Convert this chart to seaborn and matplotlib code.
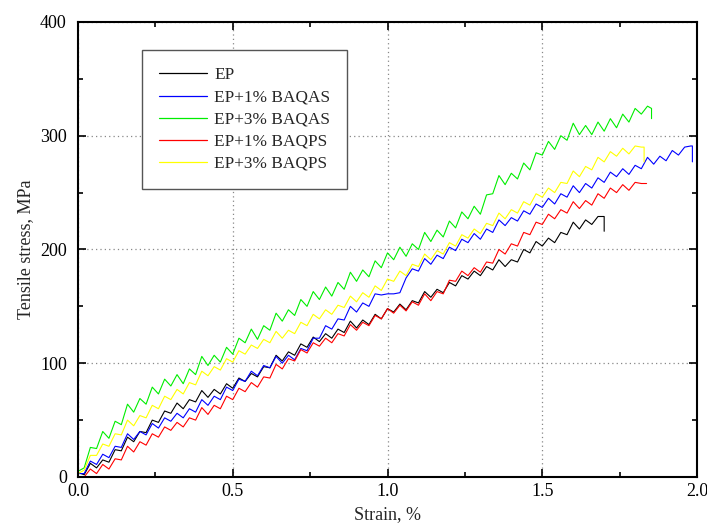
import matplotlib
matplotlib.use("Agg")
import matplotlib.pyplot as plt
from matplotlib.ticker import MultipleLocator
import seaborn as sns
import pandas as pd

# shared strain grid (%)
strain = [0.00, 0.02, 0.04, 0.06, 0.08, 0.10, 0.12, 0.14, 0.16, 0.18,
          0.20, 0.22, 0.24, 0.26, 0.28, 0.30, 0.32, 0.34, 0.36, 0.38,
          0.40, 0.42, 0.44, 0.46, 0.48, 0.50, 0.52, 0.54, 0.56, 0.58,
          0.60, 0.62, 0.64, 0.66, 0.68, 0.70, 0.72, 0.74, 0.76, 0.78,
          0.80, 0.82, 0.84, 0.86, 0.88, 0.90, 0.92, 0.94, 0.96, 0.98,
          1.00, 1.02, 1.04, 1.06, 1.08, 1.10, 1.12, 1.14, 1.16, 1.18,
          1.20, 1.22, 1.24, 1.26, 1.28, 1.30, 1.32, 1.34, 1.36, 1.38,
          1.40, 1.42, 1.44, 1.46, 1.48, 1.50, 1.52, 1.54, 1.56, 1.58,
          1.60, 1.62, 1.64, 1.66, 1.68, 1.70, 1.72, 1.74, 1.76, 1.78,
          1.80, 1.82, 1.84, 1.86, 1.88, 1.90, 1.92, 1.94, 1.96, 1.98]

labels = ["EP", "EP+1% BAQAS", "EP+3% BAQAS", "EP+1% BAQPS", "EP+3% BAQPS"]
colors = ["#000000", "#0000ff", "#00ee00", "#ff0000", "#ffff00"]

ep_y = [4, 2, 12, 8, 15, 13, 24, 23, 35, 31, 40, 39, 50, 48, 58, 56, 65, 60, 68, 66,
        76, 70, 77, 73, 82, 78, 87, 84, 91, 88, 97, 96, 107, 102, 110, 107, 117, 114, 123, 119,
        126, 122, 130, 127, 137, 131, 138, 134, 143, 139, 148, 145, 152, 147, 155, 153, 163, 158, 165, 162,
        171, 168, 177, 174, 181, 177, 185, 182, 191, 185, 191, 189, 200, 197, 207, 203, 210, 206, 215, 213,
        224, 218, 226, 222, 229]
ep_end_x = [1.70, 1.70]
ep_end_y = [229, 216]

b1_y = [3, 3, 14, 11, 20, 17, 27, 26, 38, 33, 40, 37, 47, 43, 52, 49, 56, 52, 60, 57,
        68, 63, 71, 68, 79, 76, 86, 84, 93, 89, 98, 96, 106, 100, 107, 103, 113, 111, 122, 122,
        133, 130, 139, 138, 150, 145, 153, 150, 161, 160, 161, 161, 162, 175, 183, 181, 192, 187, 195, 192,
        202, 199, 209, 206, 214, 209, 218, 215, 226, 221, 228, 225, 234, 231, 240, 237, 245, 240, 249, 246,
        256, 250, 258, 254, 263, 259, 268, 264, 271, 266, 274, 271, 281, 275, 282, 278, 287, 283, 290, 291]
b1_end_x = [1.985, 1.985]
b1_end_y = [291, 277]

b3_y = [5, 8, 26, 25, 40, 34, 49, 46, 64, 57, 69, 64, 79, 73, 86, 80, 90, 82, 95, 90,
        106, 98, 107, 101, 114, 108, 122, 118, 130, 121, 133, 129, 144, 137, 147, 142, 156, 150, 163, 156,
        167, 159, 171, 165, 180, 172, 182, 176, 190, 184, 197, 191, 202, 194, 205, 200, 215, 207, 217, 211,
        225, 219, 233, 227, 238, 231, 248, 249, 265, 257, 267, 262, 276, 270, 285, 283, 295, 288, 300, 296,
        311, 301, 309, 301, 312, 304, 315, 307, 319, 312, 324, 319, 326]
b3_end_x = [1.853, 1.853]
b3_end_y = [324, 315]

p1_y = [0, 0, 7, 3, 11, 7, 16, 15, 27, 22, 31, 28, 38, 35, 44, 41, 48, 44, 52, 50,
        61, 55, 63, 60, 71, 68, 78, 75, 83, 79, 88, 87, 99, 95, 104, 102, 112, 109, 118, 115,
        122, 118, 126, 124, 134, 129, 136, 133, 142, 139, 148, 144, 151, 146, 154, 151, 161, 155, 163, 161,
        173, 172, 181, 177, 184, 180, 189, 188, 200, 196, 205, 203, 215, 213, 224, 222, 231, 227, 235, 232,
        242, 236, 243, 239, 249, 245, 254, 250, 257, 252, 259, 258]
p1_end_x = [1.837]
p1_end_y = [258]

p3_y = [3, 6, 19, 19, 29, 27, 38, 37, 50, 45, 54, 52, 63, 60, 71, 68, 77, 73, 83, 81,
        93, 89, 97, 94, 104, 101, 111, 108, 116, 113, 121, 118, 128, 122, 129, 126, 136, 133, 143, 139,
        147, 143, 151, 149, 159, 154, 162, 158, 168, 164, 174, 172, 181, 177, 187, 185, 196, 191, 199, 196,
        206, 203, 213, 210, 218, 214, 223, 221, 232, 227, 235, 232, 242, 239, 249, 246, 254, 250, 259, 258,
        269, 264, 273, 270, 281, 277, 286, 282, 289, 284, 291, 290]
p3_end_x = [1.829, 1.829]
p3_end_y = [290, 277]

series = [(ep_y, ep_end_x, ep_end_y), (b1_y, b1_end_x, b1_end_y), (b3_y, b3_end_x, b3_end_y),
          (p1_y, p1_end_x, p1_end_y), (p3_y, p3_end_x, p3_end_y)]

rows = []
for lab, (ys, ex, ey) in zip(labels, series):
    xs = strain[:len(ys)] + ex
    yy = ys + ey
    for i, (a, b) in enumerate(zip(xs, yy)):
        rows.append({"sample": lab, "order": i, "strain": a, "stress": b})
df = pd.DataFrame(rows)

sns.set_theme(style="ticks")
plt.rcParams["font.family"] = ["Liberation Serif", "DejaVu Serif"]

fig = plt.figure(figsize=(7.07, 5.27), dpi=100)
ax = fig.add_axes([0.1103, 0.0949, 0.8756, 0.8634])

ax.grid(True, which="major", color="#888888", linestyle=(0, (1, 2.5)), linewidth=0.9)
ax.set_axisbelow(True)

sns.lineplot(data=df, x="strain", y="stress", hue="sample", hue_order=labels,
             palette=colors, sort=False, estimator=None, units="sample",
             linewidth=0.8, ax=ax, legend=False)

ax.set_xlim(0, 2.0)
ax.set_ylim(0, 400)
ax.xaxis.set_major_locator(MultipleLocator(0.5))
ax.xaxis.set_minor_locator(MultipleLocator(0.25))
ax.yaxis.set_major_locator(MultipleLocator(100))
ax.yaxis.set_minor_locator(MultipleLocator(50))
ax.tick_params(which="both", direction="in", top=True, right=True, colors="black",
               labelsize=13, width=1.2)
ax.tick_params(which="major", length=6)
ax.tick_params(which="minor", length=3.5)
ax.tick_params(axis="y", pad=8)
ax.tick_params(axis="x", pad=4.5)
ax.set_xticks([0, 0.5, 1.0, 1.5, 2.0])
ax.set_xticklabels(["0.0", "0.5", "1.0", "1.5", "2.0"])
for s in ax.spines.values():
    s.set_linewidth(1.5)
    s.set_color("black")

ax.set_xlabel("Strain, %", fontsize=13, labelpad=4)
ax.set_ylabel("Tensile stress, MPa", fontsize=13, labelpad=4)

handles = [plt.Line2D([], [], color=c, linewidth=0.9) for c in colors]
leg = ax.legend(handles, labels, loc="upper left", bbox_to_anchor=(0.103, 0.938),
                fontsize=12.4, frameon=True, fancybox=False, edgecolor="#555555",
                framealpha=1, handlelength=2.8, borderpad=1.0, labelspacing=0.35,
                handletextpad=0.4, borderaxespad=0)
leg.get_frame().set_linewidth(1.0)

fig.savefig("out.png", dpi=100)
